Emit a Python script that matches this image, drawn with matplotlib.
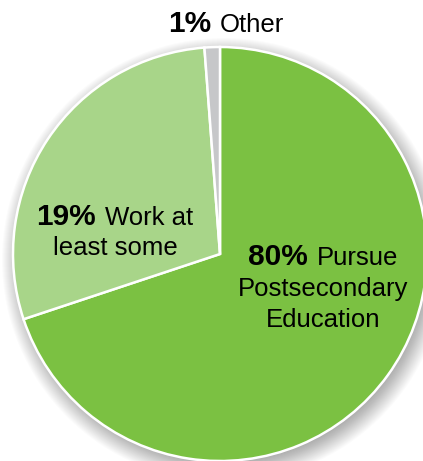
import matplotlib
matplotlib.use('Agg')
import matplotlib.pyplot as plt
from matplotlib.patches import Circle

# ---- data ----
# slice sizes as drawn in the picture (the artwork is not to scale)
slice_sizes = [69.9, 28.9, 1.2]
percent_labels = ["80%", "19%", "1%"]
category_lines = [["Pursue", "Postsecondary", "Education"],
                  ["Work at", "least some"],
                  ["Other"]]
colors = ["#7bc142", "#a8d589", "#c6c7c9"]

W, H = 423, 461
plt.rcParams['font.family'] = ['Liberation Sans', 'DejaVu Sans']
fig = plt.figure(figsize=(W / 100, H / 100), dpi=100)
ax = fig.add_axes([0, 0, 1, 1])

cx, cy, r = 220, H - 254, 207

# soft drop shadow
for i in range(22):
    ax.add_patch(Circle((cx + 4, cy - 6), r - 6 + i, facecolor='black',
                        alpha=0.016, lw=0, zorder=0))

ax.pie(slice_sizes, colors=colors, startangle=90, counterclock=False,
       center=(cx, cy), radius=r,
       wedgeprops=dict(edgecolor='white', linewidth=1.8))

ax.set_xlim(0, W)
ax.set_ylim(0, H)
ax.set_aspect('equal')
ax.axis('off')

renderer = fig.canvas.get_renderer()
FS = 18.5
FSB = 21.5


def text_width(s, weight, fs):
    t = ax.text(0, 0, s, fontsize=fs, fontweight=weight)
    w = t.get_window_extent(renderer).width
    t.remove()
    return w


space_w = text_width("a a", 'normal', FS) - text_width("aa", 'normal', FS) + 2


def draw_label(xc, baselines_img, bold, lines):
    for i, (line, yb) in enumerate(zip(lines, baselines_img)):
        y = H - yb
        if i == 0:
            w1 = text_width(bold, 'bold', FSB)
            w2 = text_width(line, 'normal', FS)
            total = w1 + space_w + w2
            x0 = xc - total / 2
            ax.text(x0, y, bold, fontsize=FSB, fontweight='bold',
                    ha='left', va='baseline', color='black', zorder=5)
            ax.text(x0 + w1 + space_w, y, line, fontsize=FS,
                    ha='left', va='baseline', color='black', zorder=5)
        else:
            ax.text(xc, y, line, fontsize=FS, ha='center', va='baseline',
                    color='black', zorder=5)


layout = [
    (323, [265, 296, 327]),
    (115, [225, 255]),
    (226, [32]),
]
for (xc, bl), pct, lines in zip(layout, percent_labels, category_lines):
    draw_label(xc, bl, pct, lines)

fig.savefig('out.png', dpi=100, facecolor='white')
